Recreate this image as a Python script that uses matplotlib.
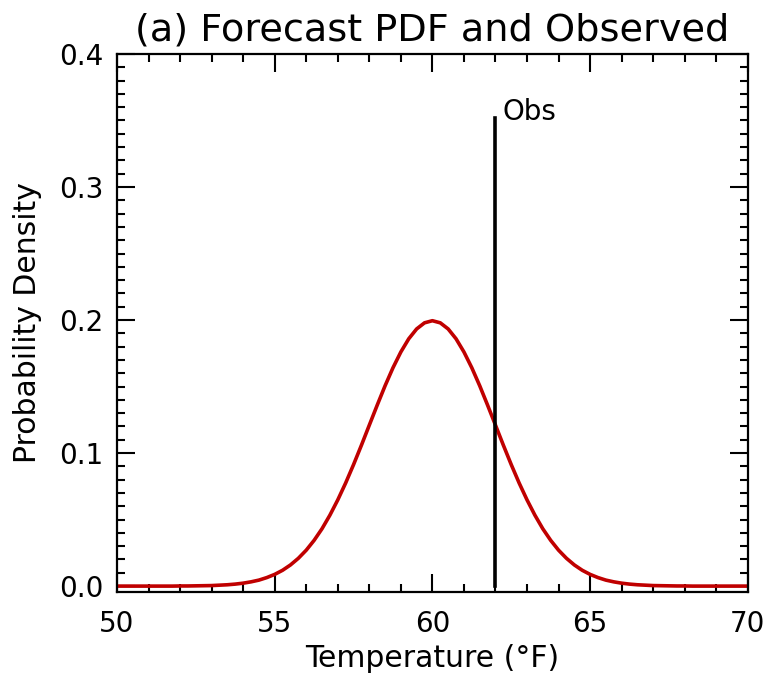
import matplotlib
matplotlib.use("Agg")
import matplotlib.pyplot as plt
from matplotlib.ticker import MultipleLocator

# forecast pdf, every 0.25 degF from 50 to 70
temp = [50 + 0.25 * i for i in range(81)]
pdf = [0.0, 0.0, 0.0, 0.0, 0.0, 0.0, 0.0, 0.0, 0.0001, 0.0001,
       0.0002, 0.0003, 0.0004, 0.0007, 0.0010, 0.0015, 0.0022, 0.0032, 0.0045, 0.0064,
       0.0088, 0.0119, 0.0159, 0.0209, 0.0270, 0.0344, 0.0431, 0.0533, 0.0648, 0.0775,
       0.0913, 0.1059, 0.1210, 0.1360, 0.1506, 0.1641, 0.1760, 0.1859, 0.1933, 0.1979,
       0.1995,
       0.1979, 0.1933, 0.1859, 0.1760, 0.1641, 0.1506, 0.1360, 0.1210, 0.1059, 0.0913,
       0.0775, 0.0648, 0.0533, 0.0431, 0.0344, 0.0270, 0.0209, 0.0159, 0.0119, 0.0088,
       0.0064, 0.0045, 0.0032, 0.0022, 0.0015, 0.0010, 0.0007, 0.0004, 0.0003, 0.0002,
       0.0001, 0.0001, 0.0, 0.0, 0.0, 0.0, 0.0, 0.0, 0.0, 0.0]

obs_temp = 62.0
obs_top = 0.352

plt.rcParams['font.family'] = ['DejaVu Sans']

fig = plt.figure(figsize=(7.67, 6.79), dpi=100)
ax = fig.add_axes([0.1525, 0.128, 0.8225, 0.7925])

ax.plot(temp, pdf, color='#c00000', lw=2.6, solid_capstyle='butt')
ax.plot([obs_temp, obs_temp], [0, obs_top], color='black', lw=2.6)
ax.text(obs_temp + 0.22, 0.35, "Obs", fontsize=20, ha='left', va='baseline')

ax.set_xlim(50, 70)
ax.set_ylim(-0.0045, 0.4)
ax.xaxis.set_major_locator(MultipleLocator(5))
ax.xaxis.set_minor_locator(MultipleLocator(1))
ax.yaxis.set_major_locator(MultipleLocator(0.1))
ax.yaxis.set_minor_locator(MultipleLocator(0.01))
ax.yaxis.set_major_formatter(plt.FormatStrFormatter('%.1f'))

ax.tick_params(which='both', direction='in', top=True, right=True, width=1.5,
               labelsize=20)
ax.tick_params(axis='x', which='major', pad=13)
ax.tick_params(axis='y', which='major', pad=9.5)
ax.tick_params(which='major', length=13)
ax.tick_params(which='minor', length=6)
for s in ax.spines.values():
    s.set_linewidth(1.6)

ax.set_title("(a) Forecast PDF and Observed", fontsize=27.5, pad=10)
ax.set_xlabel("Temperature (°F)", fontsize=21.5, labelpad=4)
ax.set_ylabel("Probability Density", fontsize=21.5, labelpad=12.5)

fig.savefig("out.png", dpi=100)
